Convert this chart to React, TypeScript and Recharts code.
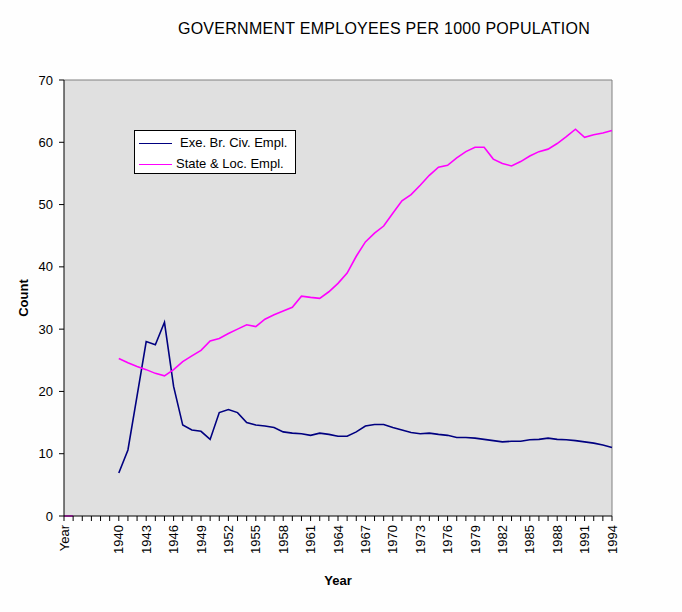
import React from 'react';
import { LineChart, Line, XAxis, YAxis, CartesianGrid, ReferenceLine } from 'recharts';

const leadCategories = ['Year', ' ', '  ', '   ', '    ', '     '];
const years = [
  '1940', '1941', '1942', '1943', '1944', '1945', '1946', '1947', '1948', '1949',
  '1950', '1951', '1952', '1953', '1954', '1955', '1956', '1957', '1958', '1959',
  '1960', '1961', '1962', '1963', '1964', '1965', '1966', '1967', '1968', '1969',
  '1970', '1971', '1972', '1973', '1974', '1975', '1976', '1977', '1978', '1979',
  '1980', '1981', '1982', '1983', '1984', '1985', '1986', '1987', '1988', '1989',
  '1990', '1991', '1992', '1993', '1994',
];
const tickLabels = [
  'Year', '1940', '1943', '1946', '1949', '1952', '1955', '1958', '1961', '1964',
  '1967', '1970', '1973', '1976', '1979', '1982', '1985', '1988', '1991', '1994',
];
const yTicks = [0, 10, 20, 30, 40, 50, 60, 70];

const leadExe = [null, null, null, null, null, null];
const leadState = [0, 0, null, null, null, null];

const exeBrCivEmpl = [
  6.9, 10.6, 19.3, 28.0, 27.5, 31.1, 20.8, 14.6, 13.8, 13.6,
  12.3, 16.6, 17.1, 16.6, 15.0, 14.6, 14.45, 14.2, 13.5, 13.3,
  13.2, 12.95, 13.3, 13.1, 12.8, 12.8, 13.5, 14.45, 14.7, 14.7,
  14.2, 13.8, 13.4, 13.2, 13.3, 13.1, 12.95, 12.6, 12.6, 12.5,
  12.3, 12.1, 11.9, 12.0, 12.0, 12.25, 12.3, 12.5, 12.3, 12.25,
  12.1, 11.9, 11.7, 11.4, 11.0,
];
const stateLocEmpl = [
  25.3, 24.6, 24.0, 23.5, 22.9, 22.5, 23.5, 24.8, 25.7, 26.6,
  28.1, 28.5, 29.3, 30.0, 30.7, 30.4, 31.6, 32.3, 32.9, 33.5,
  35.3, 35.1, 34.95, 36.0, 37.35, 39.0, 41.7, 44.0, 45.4, 46.55,
  48.6, 50.6, 51.6, 53.1, 54.7, 56.0, 56.3, 57.5, 58.5, 59.2,
  59.2, 57.3, 56.6, 56.2, 56.9, 57.8, 58.5, 58.9, 59.8, 60.9,
  62.1, 60.8, 61.2, 61.5, 61.9,
];

const categories = [...leadCategories, ...years];
const exeAll = [...leadExe, ...exeBrCivEmpl];
const stateAll = [...leadState, ...stateLocEmpl];
const data = categories.map((c, i) => ({ cat: c, exe: exeAll[i], state: stateAll[i] }));

const FONT = '"Liberation Sans", Arial, sans-serif';
const BLUE = '#000080';
const MAGENTA = '#ff00ff';

const XTick = (props: any) => {
  const { x, y, payload } = props;
  const label = payload.value;
  if (!tickLabels.includes(label)) return null;
  return (
    <text
      x={x}
      y={y + 2}
      transform={`rotate(-90, ${x}, ${y + 2})`}
      textAnchor="end"
      dy="0.35em"
      fontSize={13}
      fontFamily={FONT}
      fill="#000"
    >
      {label}
    </text>
  );
};

export default function App() {
  return (
    <div style={{ position: 'absolute', left: 0, top: 0, width: 682, height: 612, background: '#fefefe', fontFamily: FONT }}>
      <div style={{ position: 'absolute', left: 0, width: 768, top: 20, textAlign: 'center', fontSize: 16, letterSpacing: 0.27, color: '#000' }}>
        GOVERNMENT EMPLOYEES PER 1000 POPULATION
      </div>
      <LineChart
        width={682}
        height={612}
        data={data}
        margin={{ top: 80, right: 70, bottom: 56, left: 24 }}
      >
        <CartesianGrid fill="#e0e0e0" stroke="none" horizontal={false} vertical={false} />
        <XAxis
          dataKey="cat"
          interval={0}
          height={40}
          tickSize={5}
          tickMargin={2}
          tickLine={{ stroke: '#000' }}
          axisLine={{ stroke: '#000' }}
          tick={<XTick />}
        />
        <YAxis
          domain={[0, 70]}
          ticks={yTicks}
          width={40}
          tickSize={5}
          tickMargin={6}
          tickLine={{ stroke: '#000' }}
          axisLine={{ stroke: '#000' }}
          tick={{ fontSize: 13, fontFamily: FONT, fill: '#000' }}
          interval={0}
        />
        <ReferenceLine y={70} stroke="#808080" />
        <ReferenceLine x="1994" stroke="#808080" />
        <Line
          dataKey="exe"
          name="Exe. Br. Civ. Empl."
          stroke={BLUE}
          strokeWidth={1.6}
          dot={false}
          activeDot={false}
          type="linear"
          isAnimationActive={false}
        />
        <Line
          dataKey="state"
          name="State & Loc. Empl."
          stroke={MAGENTA}
          strokeWidth={1.6}
          dot={false}
          activeDot={false}
          type="linear"
          isAnimationActive={false}
        />
      </LineChart>
      <div
        style={{
          position: 'absolute',
          left: 23,
          top: 298,
          transform: 'translate(-50%, -50%) rotate(-90deg)',
          fontSize: 13,
          fontWeight: 'bold',
          color: '#000',
        }}
      >
        Count
      </div>
      <div
        style={{
          position: 'absolute',
          left: 338,
          top: 580,
          transform: 'translate(-50%, -50%)',
          fontSize: 13,
          fontWeight: 'bold',
          color: '#000',
        }}
      >
        Year
      </div>
      <div
        style={{
          position: 'absolute',
          left: 134,
          top: 130,
          width: 160,
          height: 42,
          border: '1px solid #000',
          background: '#fff',
          fontSize: 13,
          color: '#000',
        }}
      >
        <div style={{ position: 'absolute', left: 4, top: 12, width: 33, height: 0, borderTop: `1.5px solid ${BLUE}` }} />
        <div style={{ position: 'absolute', left: 45, top: 4, lineHeight: '16px', whiteSpace: 'nowrap' }}>Exe. Br. Civ. Empl.</div>
        <div style={{ position: 'absolute', left: 4, top: 33, width: 33, height: 0, borderTop: `1.5px solid ${MAGENTA}` }} />
        <div style={{ position: 'absolute', left: 41, top: 25, lineHeight: '16px', whiteSpace: 'nowrap' }}>State &amp; Loc. Empl.</div>
      </div>
    </div>
  );
}
